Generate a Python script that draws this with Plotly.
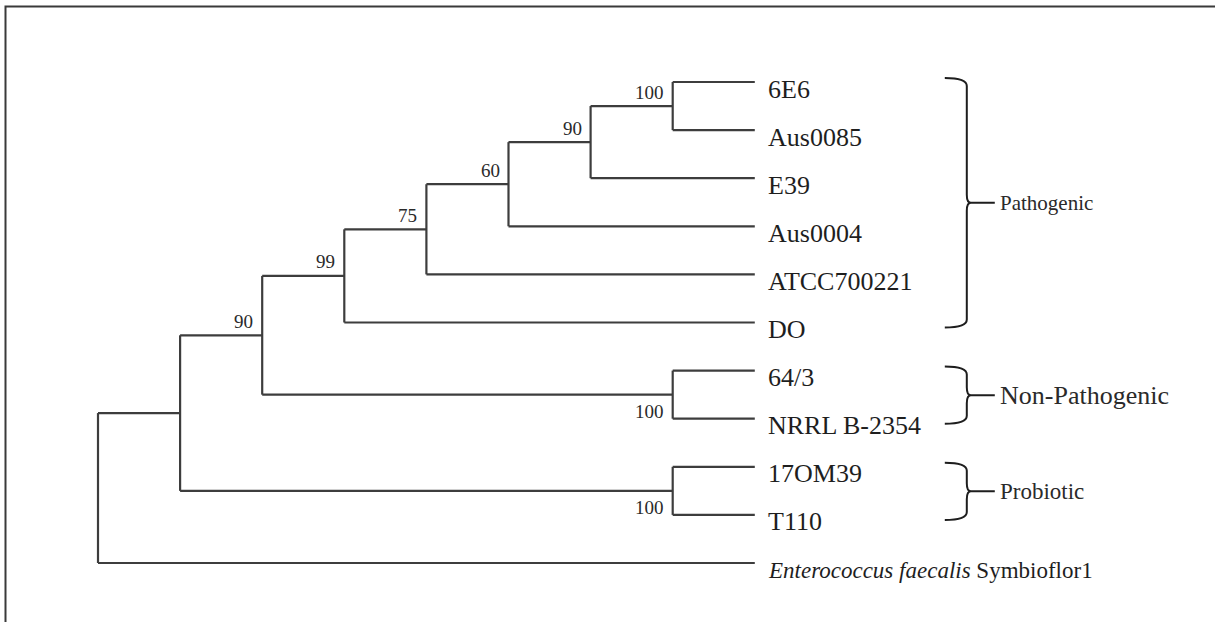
import plotly.graph_objects as go

# ---- tree data -------------------------------------------------------------
leaf_names = ["6E6", "Aus0085", "E39", "Aus0004", "ATCC700221", "DO",
              "64/3", "NRRL B-2354", "17OM39", "T110", "E_faecalis"]
leaf_labels = ["6E6", "Aus0085", "E39", "Aus0004", "ATCC700221", "DO",
               "64/3", "NRRL B-2354", "17OM39", "T110",
               "<i>Enterococcus faecalis</i> Symbioflor1"]
leaf_font = [26, 26, 26, 26, 26, 26, 26, 26, 26, 26, 23]

node_ids = ["A", "B", "C", "D", "E", "F", "G", "H", "I", "R"]
node_children = [["6E6", "Aus0085"], ["A", "E39"], ["B", "Aus0004"],
                 ["C", "ATCC700221"], ["D", "DO"], ["64/3", "NRRL B-2354"],
                 ["E", "F"], ["17OM39", "T110"], ["G", "H"],
                 ["I", "E_faecalis"]]
node_depth = [7, 6, 5, 4, 3, 7, 2, 7, 1, 0]
bootstrap = [100, 90, 60, 75, 99, 100, 90, 100, None, None]
bootstrap_below = [False, False, False, False, False, True, False, True, False, False]
leaf_depth = 8

group_names = ["Pathogenic", "Non-Pathogenic", "Probiotic"]
group_first = ["6E6", "64/3", "17OM39"]
group_last = ["DO", "NRRL B-2354", "T110"]
group_font = [21, 26, 23]

# ---- layout geometry (pixels) ---------------------------------------------
W, H = 1215, 622
root_px, level_px = 98.0, 82.1
first_leaf_px, leaf_px = 82.0, 48.1

x_range = [-root_px / level_px, (W - root_px) / level_px]
y_range = [(H - first_leaf_px) / leaf_px, -first_leaf_px / leaf_px]

# ---- node coordinates -------------------------------------------------------
pos = {}
for i, name in enumerate(leaf_names):
    pos[name] = (leaf_depth, i)
for nid, kids, d in zip(node_ids, node_children, node_depth):
    ys = [pos[k][1] for k in kids]
    pos[nid] = (d, (min(ys) + max(ys)) / 2)

xs, ys = [], []
for nid, kids in zip(node_ids, node_children):
    nx, ny = pos[nid]
    kid_y = [pos[k][1] for k in kids]
    # vertical connector
    xs += [nx, nx, None]
    ys += [min(kid_y), max(kid_y), None]
    # horizontal branches to children
    for k in kids:
        kx, ky = pos[k]
        xs += [nx, kx, None]
        ys += [ky, ky, None]

line_color = "#3d3d3d"
fig = go.Figure()
fig.add_trace(go.Scatter(x=xs, y=ys, mode="lines",
                         line=dict(color=line_color, width=2.2),
                         hoverinfo="skip", showlegend=False))

serif = "Liberation Serif, Times New Roman, serif"
annotations = []

# leaf labels
for name, lab, fs in zip(leaf_names, leaf_labels, leaf_font):
    x, y = pos[name]
    annotations.append(dict(x=x, y=y, text=lab, showarrow=False,
                            xanchor="left", yanchor="middle",
                            xshift=11, yshift=-7,
                            font=dict(family=serif, size=fs, color="#1e1e1e")))

# bootstrap support values
for nid, bs, below in zip(node_ids, bootstrap, bootstrap_below):
    if bs is None:
        continue
    x, y = pos[nid]
    annotations.append(dict(x=x, y=y, text=str(bs), showarrow=False,
                            xanchor="right", yanchor="middle",
                            xshift=-7, yshift=(-17 if below else 14),
                            font=dict(family=serif, size=19, color="#2a2a2a")))

# group braces
shapes = []
bx0 = leaf_depth + 190 / level_px   # hook start
bxv = leaf_depth + 212 / level_px   # vertical stroke
bxc = leaf_depth + 216 / level_px   # cusp
bxt = leaf_depth + 240 / level_px   # tip end
rx = 8 / level_px
ry = 8 / leaf_px
for gname, g0, g1, fs in zip(group_names, group_first, group_last, group_font):
    ytop = pos[g0][1] - 4 / leaf_px
    ybot = pos[g1][1] + 5 / leaf_px
    ymid = (ytop + ybot) / 2
    path = (f"M {bx0},{ytop} Q {bxv},{ytop} {bxv},{ytop + ry} "
            f"L {bxv},{ymid - ry} Q {bxv},{ymid} {bxc},{ymid} L {bxt},{ymid} "
            f"M {bxc},{ymid} Q {bxv},{ymid} {bxv},{ymid + ry} "
            f"L {bxv},{ybot - ry} Q {bxv},{ybot} {bx0},{ybot}")
    shapes.append(dict(type="path", path=path, xref="x", yref="y",
                       line=dict(color="#1e1e1e", width=2)))
    annotations.append(dict(x=bxt, y=ymid, text=gname, showarrow=False,
                            xanchor="left", yanchor="middle", xshift=3,
                            font=dict(family=serif, size=fs, color="#2a2a2a")))

# outer frame
shapes.append(dict(type="rect", xref="paper", yref="paper",
                   x0=5.5 / W, x1=1.02, y0=-0.02, y1=1 - 6.5 / H,
                   line=dict(color="#3a3a3a", width=2)))

fig.update_layout(
    width=W, height=H,
    margin=dict(l=0, r=0, t=0, b=0),
    paper_bgcolor="white", plot_bgcolor="white",
    xaxis=dict(range=x_range, visible=False, fixedrange=True),
    yaxis=dict(range=y_range, visible=False, fixedrange=True),
    annotations=annotations, shapes=shapes,
    showlegend=False,
)

fig.write_html("out.html")
